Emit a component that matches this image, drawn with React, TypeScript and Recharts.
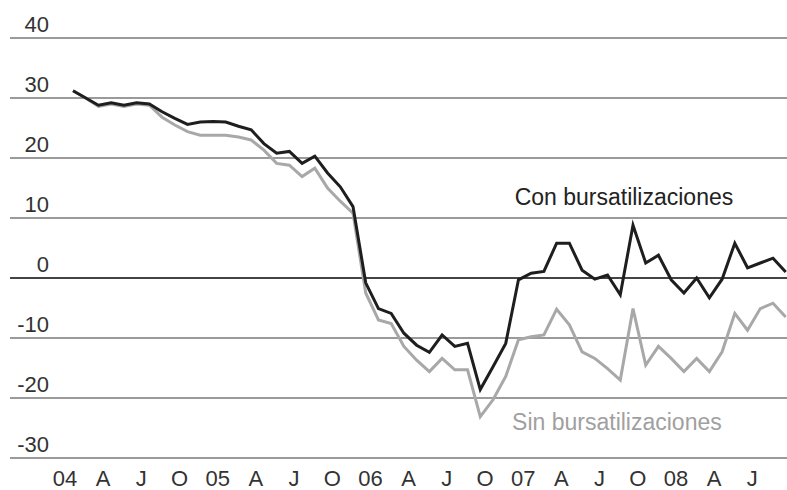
import {
  LineChart,
  Line,
  XAxis,
  YAxis,
  CartesianGrid,
  ReferenceLine,
  ReferenceDot,
} from "recharts";

// monthly, Jan 2004 .. Sep 2008
const conBursa = [
  31.2, 30.0, 28.8, 29.2, 28.8, 29.2, 29.0, 27.7, 26.6, 25.6,
  26.0, 26.1, 26.0, 25.3, 24.7, 22.4, 20.8, 21.1, 19.1, 20.3,
  17.5, 15.2, 11.9, -0.8, -5.1, -5.9, -9.2, -11.2, -12.4, -9.5,
  -11.4, -10.9, -18.6, -14.8, -10.9, -0.3, 0.8, 1.1, 5.8, 5.8,
  1.3, -0.2, 0.5, -2.8, 8.8, 2.5, 3.8, -0.3, -2.5, 0.0,
  -3.3, -0.2, 5.8, 1.7, 2.5, 3.3, 1.0,
];

const sinBursa = [
  31.2, 30.0, 28.6, 29.0, 28.6, 29.0, 28.8, 26.8, 25.5, 24.4,
  23.8, 23.8, 23.8, 23.5, 23.0, 21.3, 19.1, 18.8, 16.9, 18.3,
  15.0, 12.8, 10.8, -2.5, -7.0, -7.6, -11.4, -13.7, -15.6, -13.4,
  -15.3, -15.3, -23.1, -20.3, -16.4, -10.3, -9.8, -9.5, -5.2, -7.8,
  -12.3, -13.4, -15.1, -17.0, -5.1, -14.5, -11.4, -13.4, -15.6, -13.4,
  -15.6, -12.3, -5.9, -8.7, -5.1, -4.2, -6.5,
];

const quarterLabels = [
  "04", "A", "J", "O", "05", "A", "J", "O", "06", "A",
  "J", "O", "07", "A", "J", "O", "08", "A", "J",
];

const yTicks = [-30, -20, -10, 0, 10, 20, 30, 40];

const data = conBursa.map((v, i) => ({ i, con: v, sin: sinBursa[i] }));
const quarterTicks = quarterLabels.map((_, k) => k * 3);

const FONT = "'Liberation Sans', Arial, sans-serif";

const XTick = (props: any) => {
  const { x, payload } = props;
  const label = quarterLabels[Math.round(payload.value / 3)];
  return (
    <text
      x={x - 8}
      y={486}
      textAnchor="middle"
      fontFamily={FONT}
      fontSize={22}
      fill="#333"
    >
      {label}
    </text>
  );
};

const YTick = (props: any) => {
  const { y, payload } = props;
  return (
    <text
      x={49}
      y={y - 6}
      textAnchor="end"
      fontFamily={FONT}
      fontSize={22}
      fill="#333"
    >
      {payload.value}
    </text>
  );
};

const seriesLabel = (text: string, color: string) => (props: any) => {
  const { viewBox } = props;
  return (
    <text
      x={viewBox.x}
      y={viewBox.y}
      fontFamily={FONT}
      fontSize={23}
      fill={color}
    >
      {text}
    </text>
  );
};

export default function App() {
  return (
    <div style={{ position: "absolute", left: 0, top: 0, background: "#fff" }}>
      <LineChart
        width={787}
        height={490}
        data={data}
        margin={{ top: 38, right: 0, bottom: 0, left: 0 }}
      >
        <CartesianGrid
          horizontal
          vertical={false}
          stroke="#9a9a9a"
          strokeWidth={2}
        />
        <XAxis
          type="number"
          dataKey="i"
          domain={[-4.95, 56.1]}
          allowDataOverflow
          ticks={quarterTicks}
          interval={0}
          axisLine={false}
          tickLine={false}
          height={32}
          tick={<XTick />}
        />
        <YAxis
          type="number"
          domain={[-30, 40]}
          ticks={yTicks}
          interval={0}
          axisLine={false}
          tickLine={false}
          width={10}
          tick={<YTick />}
        />
        <ReferenceLine y={0} stroke="#444" strokeWidth={2} />
        <Line
          type="linear"
          dataKey="sin"
          stroke="#a8a8a8"
          strokeWidth={3}
          dot={false}
          isAnimationActive={false}
        />
        <Line
          type="linear"
          dataKey="con"
          stroke="#1e1e1e"
          strokeWidth={3}
          dot={false}
          isAnimationActive={false}
        />
        <ReferenceDot
          x={34.7}
          y={12.2}
          r={0}
          fill="none"
          stroke="none"
          label={seriesLabel("Con bursatilizaciones", "#222")}
        />
        <ReferenceDot
          x={34.5}
          y={-25.3}
          r={0}
          fill="none"
          stroke="none"
          label={seriesLabel("Sin bursatilizaciones", "#a0a0a0")}
        />
      </LineChart>
    </div>
  );
}
